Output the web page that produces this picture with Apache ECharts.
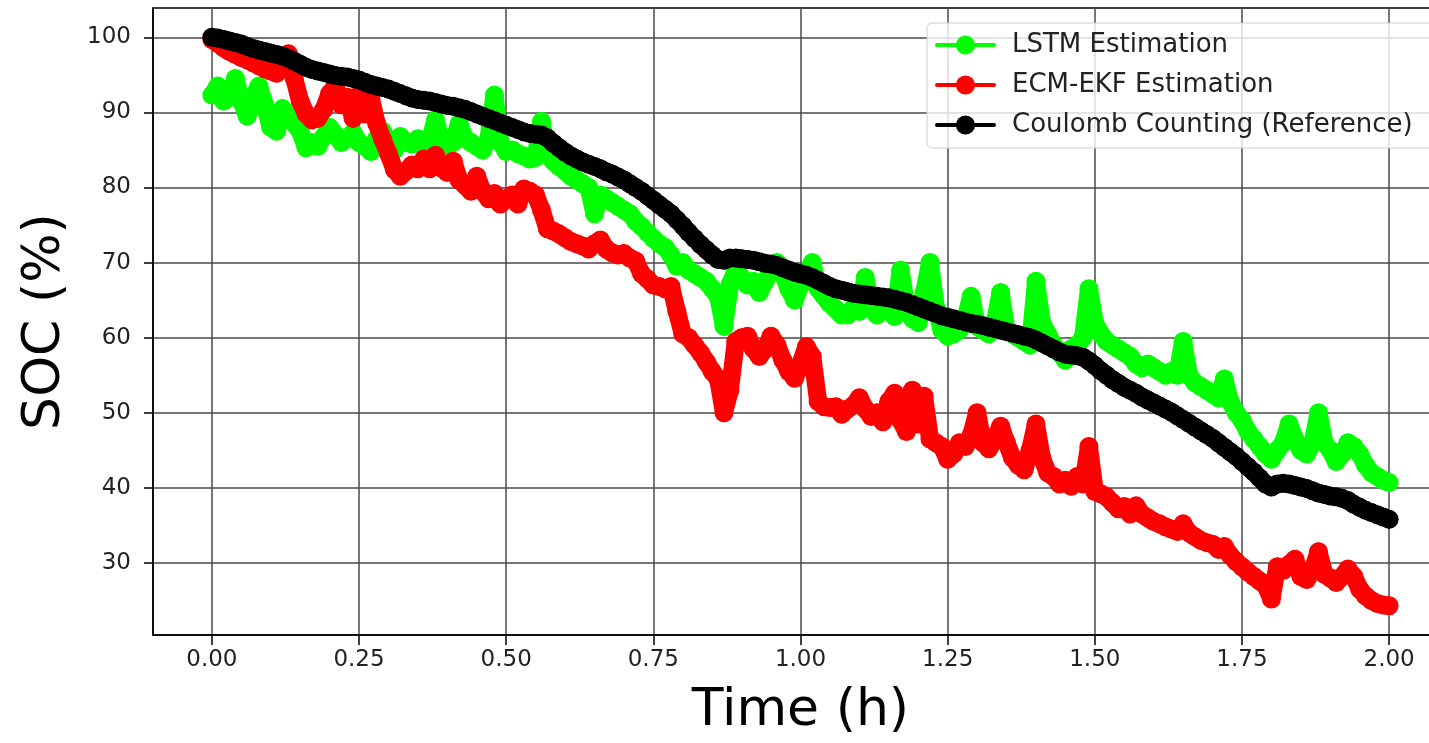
<!DOCTYPE html>
<html>
<head>
<meta charset="utf-8">
<script src="https://cdn.jsdelivr.net/npm/echarts@6/dist/echarts.min.js"></script>
<style>
html,body{margin:0;padding:0;background:#fff;}
#chart{width:1429px;height:743px;}
</style>
</head>
<body>
<div id="chart"></div>
<script>
// Time (h)
const timeH = [
0.00,0.01,0.02,0.03,0.04,0.05,0.06,0.07,0.08,0.09,
0.10,0.11,0.12,0.13,0.14,0.15,0.16,0.17,0.18,0.19,
0.20,0.21,0.22,0.23,0.24,0.25,0.26,0.27,0.28,0.29,
0.30,0.31,0.32,0.33,0.34,0.35,0.36,0.37,0.38,0.39,
0.40,0.41,0.42,0.43,0.44,0.45,0.46,0.47,0.48,0.49,
0.50,0.51,0.52,0.53,0.54,0.55,0.56,0.57,0.58,0.59,
0.60,0.61,0.62,0.63,0.64,0.65,0.66,0.67,0.68,0.69,
0.70,0.71,0.72,0.73,0.74,0.75,0.76,0.77,0.78,0.79,
0.80,0.81,0.82,0.83,0.84,0.85,0.86,0.87,0.88,0.89,
0.90,0.91,0.92,0.93,0.94,0.95,0.96,0.97,0.98,0.99,
1.00,1.01,1.02,1.03,1.04,1.05,1.06,1.07,1.08,1.09,
1.10,1.11,1.12,1.13,1.14,1.15,1.16,1.17,1.18,1.19,
1.20,1.21,1.22,1.23,1.24,1.25,1.26,1.27,1.28,1.29,
1.30,1.31,1.32,1.33,1.34,1.35,1.36,1.37,1.38,1.39,
1.40,1.41,1.42,1.43,1.44,1.45,1.46,1.47,1.48,1.49,
1.50,1.51,1.52,1.53,1.54,1.55,1.56,1.57,1.58,1.59,
1.60,1.61,1.62,1.63,1.64,1.65,1.66,1.67,1.68,1.69,
1.70,1.71,1.72,1.73,1.74,1.75,1.76,1.77,1.78,1.79,
1.80,1.81,1.82,1.83,1.84,1.85,1.86,1.87,1.88,1.89,
1.90,1.91,1.92,1.93,1.94,1.95,1.96,1.97,1.98,1.99,
2.00];

// LSTM Estimation (SOC %)
const lstmSoc = [
92.3,93.5,91.5,92.0,94.5,91.5,89.5,92.0,93.5,91.0,
88.0,87.5,90.5,89.5,88.5,87.5,85.3,86.0,85.5,86.8,
88.0,87.0,86.0,86.5,87.3,86.0,85.5,84.8,86.5,87.5,
86.0,85.0,86.8,86.0,85.8,86.5,85.5,86.2,89.0,86.0,
85.5,86.0,88.5,86.5,86.0,85.5,85.0,86.5,92.3,86.0,
84.8,85.0,84.5,84.2,83.8,84.0,88.8,84.5,83.5,82.8,
82.2,81.5,81.0,80.5,80.0,76.5,79.0,78.5,78.0,77.5,
77.0,76.5,75.5,74.8,74.0,73.2,72.5,72.0,71.0,69.5,
70.0,69.0,68.5,68.0,67.5,66.5,65.5,61.5,67.0,69.0,
68.0,67.0,67.5,66.0,67.5,69.0,70.0,68.5,66.5,65.0,
67.0,68.5,70.0,66.5,65.5,64.5,63.8,63.0,63.0,64.0,
63.5,68.0,64.0,63.0,65.0,63.5,62.8,69.0,64.0,62.5,
62.0,66.0,70.0,64.0,61.0,60.2,60.5,61.0,62.5,65.5,
61.5,61.0,60.5,62.0,66.0,61.0,60.5,60.0,59.5,59.0,
67.5,62.0,60.5,59.0,58.0,57.0,58.5,59.0,60.0,66.5,
62.0,60.5,59.5,59.0,58.5,58.0,57.5,56.5,56.0,56.5,
56.0,55.5,55.0,55.5,55.0,59.5,55.0,54.0,53.5,53.0,
52.5,52.0,54.5,51.5,50.0,49.0,47.5,46.5,45.5,44.5,
43.8,45.0,46.0,48.5,46.5,45.0,44.5,46.0,50.0,46.0,
45.0,43.5,44.5,46.0,45.5,44.5,43.0,42.0,41.5,41.0,
40.7];

// ECM-EKF Estimation (SOC %)
const ekfSoc = [
99.7,99.2,98.6,98.1,97.7,97.3,97.0,96.6,96.2,95.8,
95.5,95.2,96.0,97.8,94.5,91.5,89.8,89.0,89.2,90.4,
92.5,93.5,91.0,92.0,89.2,92.3,89.8,91.9,88.5,86.4,
84.5,82.4,81.5,82.2,83.0,82.5,83.8,82.5,84.3,82.6,
82.0,83.5,81.0,80.3,79.5,81.5,79.5,78.5,79.2,77.8,
78.5,79.0,77.8,79.8,79.5,79.0,77.0,74.5,74.2,73.8,
73.3,72.8,72.5,72.2,71.8,72.5,73.0,71.8,71.3,71.0,
71.2,70.6,70.2,68.5,67.8,67.0,66.8,66.5,66.8,63.5,
60.5,60.0,59.0,58.0,56.8,55.5,54.5,50.0,53.0,59.5,
60.0,60.2,58.5,57.5,58.5,60.2,59.0,57.0,55.5,54.6,
56.5,58.8,57.5,51.5,50.8,50.7,50.8,49.8,50.5,51.0,
52.0,50.5,49.5,50.0,48.8,51.5,52.6,49.0,47.5,53.0,
48.5,52.2,46.5,46.0,45.5,43.8,44.5,46.0,45.5,47.0,
50.0,46.0,45.2,46.5,48.2,46.0,44.0,43.0,42.4,45.0,
48.5,44.0,42.0,41.5,40.5,41.0,40.2,41.5,40.5,45.5,
39.5,39.2,38.8,38.0,37.2,37.5,36.5,37.6,36.5,36.0,
35.5,35.2,34.8,34.5,34.2,35.2,34.0,33.5,33.0,32.7,
32.5,31.8,32.2,31.0,30.2,29.5,28.8,28.2,27.6,27.0,
25.2,29.5,29.0,29.8,30.5,28.2,27.8,29.0,31.5,28.5,
28.0,27.4,28.2,29.2,28.2,26.5,25.6,25.0,24.6,24.4,
24.3];

// Coulomb Counting (Reference) (SOC %)
const coulombSoc = [
100.0,99.9,99.7,99.5,99.3,99.1,98.8,98.5,98.3,98.1,
97.9,97.7,97.5,97.2,96.8,96.4,96.0,95.7,95.5,95.3,
95.1,94.9,94.8,94.7,94.5,94.3,94.0,93.7,93.5,93.3,
93.1,92.8,92.5,92.2,91.9,91.7,91.6,91.5,91.3,91.1,
90.9,90.8,90.6,90.4,90.1,89.8,89.5,89.2,88.9,88.6,
88.3,88.0,87.7,87.4,87.2,87.1,87.0,86.6,85.9,85.3,
84.7,84.2,83.8,83.4,83.1,82.8,82.5,82.1,81.8,81.4,
81.0,80.5,80.0,79.5,78.9,78.3,77.7,77.1,76.5,75.7,
74.9,74.0,73.2,72.4,71.7,71.0,70.4,70.3,70.6,70.6,
70.5,70.4,70.3,70.1,69.9,69.8,69.6,69.3,69.0,68.7,
68.5,68.3,68.0,67.6,67.2,66.8,66.5,66.3,66.1,65.9,
65.8,65.7,65.6,65.5,65.4,65.3,65.1,64.9,64.7,64.4,
64.1,63.8,63.5,63.2,62.9,62.7,62.5,62.3,62.1,61.9,
61.8,61.6,61.4,61.2,61.0,60.8,60.6,60.4,60.2,60.0,
59.7,59.3,58.9,58.5,58.1,57.8,57.7,57.6,57.4,56.9,
56.3,55.6,55.0,54.4,53.9,53.4,53.0,52.6,52.1,51.7,
51.3,50.9,50.5,50.1,49.6,49.1,48.6,48.1,47.6,47.1,
46.6,46.0,45.4,44.8,44.2,43.5,42.8,42.1,41.3,40.5,
40.1,40.5,40.6,40.5,40.3,40.1,39.9,39.6,39.3,39.1,
38.9,38.8,38.6,38.3,37.8,37.4,37.0,36.7,36.4,36.1,
35.8];

const seriesNames = ['LSTM Estimation', 'ECM-EKF Estimation', 'Coulomb Counting (Reference)'];
const xTicks = [0, 0.25, 0.5, 0.75, 1.0, 1.25, 1.5, 1.75, 2.0];
const yTicks = [30, 40, 50, 60, 70, 80, 90, 100];
const xRange = [-0.1, 2.1];
const yRange = [20.4, 103.9];

function pairs(vals) { return timeH.map((t, i) => [t, vals[i]]); }

const FONT = 'DejaVu Sans';
const gridLine = { color: '#4a4a4a', width: 1.5 };

const chart = echarts.init(document.getElementById('chart'), null, { renderer: 'canvas' });

function mkSeries(name, vals, color, z) {
  return {
    name: name, type: 'line', data: pairs(vals),
    symbol: 'circle', symbolSize: 19, showAllSymbol: true,
    lineStyle: { color: color, width: 18, cap: 'round', join: 'round' },
    itemStyle: { color: color, borderWidth: 0 },
    z: z, animation: false, emphasis: { disabled: true }
  };
}

chart.setOption({
  animation: false,
  backgroundColor: '#fff',
  grid: { left: 153, top: 8, width: 1295, height: 627, outerBoundsMode: 'none', containLabel: false,
          show: true, borderColor: '#000', borderWidth: 1.5, backgroundColor: 'transparent' },
  legend: {
    data: seriesNames, orient: 'vertical', left: 927, top: 23,
    itemWidth: 57, itemHeight: 24, itemGap: 10,
    lineStyle: { width: 4 },
    textStyle: { fontFamily: FONT, fontSize: 26, color: '#222', lineHeight: 30, padding: [0, 0, 0, 13] },
    backgroundColor: 'rgba(255,255,255,0.8)', borderColor: '#cccccc', borderWidth: 1, borderRadius: 5,
    padding: [7, 24, 8, 8]
  },
  xAxis: {
    type: 'value', min: xRange[0], max: xRange[1],
    name: 'Time (h)', nameLocation: 'middle', nameGap: 50,
    nameTextStyle: { fontFamily: FONT, fontSize: 52, color: '#000' },
    axisLine: { show: true, onZero: false, lineStyle: { color: '#000', width: 1.5 } },
    axisTick: { show: true, inside: false, length: 10, customValues: xTicks, lineStyle: { color: '#000', width: 1.5 } },
    axisLabel: { customValues: xTicks, margin: 14, fontFamily: FONT, fontSize: 23, color: '#222', formatter: v => v.toFixed(2) },
    splitLine: { show: true, customValues: xTicks, lineStyle: gridLine }
  },
  yAxis: {
    type: 'value', min: yRange[0], max: yRange[1],
    name: 'SOC (%)', nameLocation: 'middle', nameGap: 82,
    nameTextStyle: { fontFamily: FONT, fontSize: 52, color: '#000' },
    axisLine: { show: true, onZero: false, lineStyle: { color: '#000', width: 1.5 } },
    axisTick: { show: true, inside: false, length: 9, customValues: yTicks, lineStyle: { color: '#000', width: 1.5 } },
    axisLabel: { customValues: yTicks, margin: 22, fontFamily: FONT, fontSize: 23, color: '#222', formatter: v => String(v) },
    splitLine: { show: true, customValues: yTicks, lineStyle: gridLine }
  },
  series: [
    mkSeries(seriesNames[0], lstmSoc, '#00ff00', 2),
    mkSeries(seriesNames[1], ekfSoc, '#ff0000', 3),
    mkSeries(seriesNames[2], coulombSoc, '#000000', 4)
  ]
});
</script>
</body>
</html>
